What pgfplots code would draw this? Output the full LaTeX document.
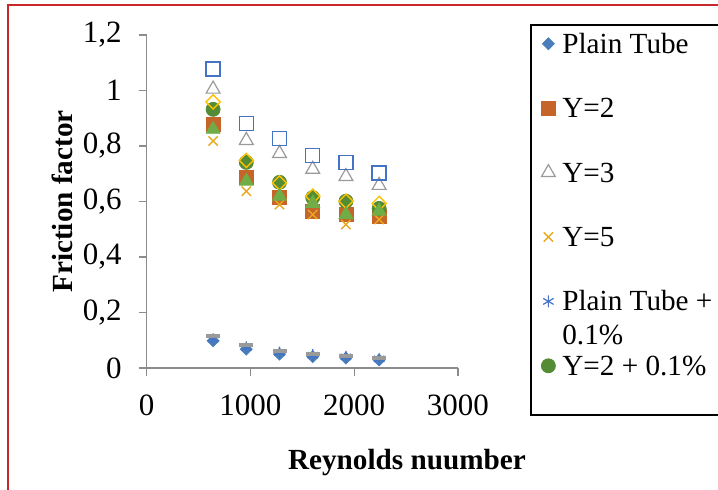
\documentclass[border=0pt]{standalone}
\usepackage{fontspec}
\setmainfont{Liberation Serif}
\usepackage{pgfplots}
\usepackage{pgfplotstable}
\pgfplotsset{compat=1.18}
\definecolor{cBlueD}{HTML}{4A7EBB}
\definecolor{cOrange}{HTML}{C5652A}
\definecolor{cGrey}{HTML}{9A9A9A}
\definecolor{cGold}{HTML}{E8A820}
\definecolor{cBlue}{HTML}{4472C4}
\definecolor{cGreenD}{HTML}{548B35}
\definecolor{cGreen}{HTML}{70AD47}
\definecolor{cYellow}{HTML}{FFC000}
\definecolor{cAxis}{HTML}{8C8C8C}
\definecolor{cRed}{HTML}{C8282A}
\pgfplotstableread{
x PT Y2 Y3 Y5 PTa Y2a G BS YD GT
640 0.098 0.878 1.005 0.818 0.104 0.932 0.116 1.077 0.959 0.860
960 0.068 0.687 0.820 0.637 0.074 0.741 0.083 0.882 0.748 0.673
1280 0.050 0.614 0.773 0.589 0.055 0.669 0.060 0.826 0.667 0.619
1600 0.041 0.564 0.716 0.553 0.046 0.614 0.050 0.766 0.619 0.593
1920 0.036 0.553 0.690 0.517 0.040 0.601 0.043 0.741 0.601 0.553
2240 0.029 0.547 0.658 0.535 0.033 0.575 0.036 0.703 0.593 0.565
}\data
\begin{document}
\begin{tikzpicture}[x=1pt,y=1pt]
\useasboundingbox (0,0) rectangle (359,245);
\draw[cRed, line width=0.8pt] (4,0) -- (4,242.5) -- (359.5,242.5);
\draw[black, line width=0.9pt] (359.5,232.5) -- (265.5,232.5) -- (265.5,37.5) -- (359.5,37.5);
\begin{axis}[
  at={(73.35pt,61pt)}, anchor=south west,
  scale only axis, width=155.65pt, height=166.5pt,
  xmin=0, xmax=3000, ymin=0, ymax=1.2,
  axis x line*=bottom, axis y line*=left,
  axis line style={cAxis, line width=0.6pt},
  xtick={0,1000,2000,3000}, ytick={0,0.2,0.4,0.6,0.8,1,1.2},
  tick align=outside, major tick length=4pt,
  tick style={cAxis, line width=0.6pt},
  /pgf/number format/use comma,
  /pgf/number format/1000 sep={},
  /pgf/number format/assume math mode=true,
  tick label style={font=\fontsize{15.5}{18}\selectfont, black},
  yticklabel style={xshift=-5pt},
  xticklabel style={yshift=-6pt},
  label style={font=\fontsize{14.6}{18}\selectfont\bfseries},
  xlabel={Reynolds nuumber}, ylabel={Friction factor},
  xlabel style={at={(axis description cs:0.836,-0.285)}, anchor=center},
  ylabel style={at={(axis description cs:-0.272,0.5)}, anchor=center},
  legend cell align=left,
  legend image code/.code={%
    \path[draw=none, fill=none] (-4pt,-4pt) rectangle (4pt,6pt);
    \draw[#1] plot coordinates {(0pt,1.3pt)};},
  legend style={draw=none, fill=none, at={(axis description cs:1.2634,1.006)},
    anchor=north west, inner sep=0pt, row sep=19.2pt,
    font=\fontsize{14.6}{17}\selectfont,
    nodes={inner sep=0pt, text height=10pt, text depth=3pt},
    /tikz/every odd column/.append style={column sep=3pt}},
]
\addplot[only marks, mark=square*, mark size=2.1pt, mark options={rotate=45, fill=cBlueD, draw=cBlueD}] table[x=x,y=PT]{\data};
\addlegendentry{Plain Tube}
\addplot[only marks, mark=square*, mark size=3.5pt, mark options={fill=cOrange, draw=cOrange}] table[x=x,y=Y2]{\data};
\addlegendentry{Y=2}
\addplot[only marks, mark=triangle, mark size=4pt, mark options={draw=cGrey, line width=0.6pt}] table[x=x,y=Y3]{\data};
\addlegendentry{Y=3}
\addplot[only marks, mark=x, mark size=3.3pt, mark options={draw=cGold, line width=0.7pt}] table[x=x,y=Y5]{\data};
\addlegendentry{Y=5}
\addplot[only marks, mark=asterisk, mark size=3pt, mark options={draw=cBlue, line width=0.6pt}] table[x=x,y=PTa]{\data};
\addlegendentry{\makebox[0pt][l]{\raisebox{-17pt}[0pt][0pt]{0.1\%}}Plain Tube +}
\addplot[only marks, mark=*, mark size=3.5pt, mark options={fill=cGreenD, draw=cGreenD}] table[x=x,y=Y2a]{\data};
\addlegendentry{Y=2 + 0.1\%}
\addplot[only marks, forget plot, mark=-, mark size=3.5pt, mark options={draw=cGrey, line width=2pt}] table[x=x,y=G]{\data};
\addplot[only marks, forget plot, mark=square, mark size=3.5pt, mark options={draw=cBlue, line width=0.7pt}] table[x=x,y=BS]{\data};
\addplot[only marks, forget plot, mark=square, mark size=2.5pt, mark options={rotate=45, draw=cYellow, line width=0.7pt}] table[x=x,y=YD]{\data};
\addplot[only marks, forget plot, mark=triangle*, mark size=4pt, mark options={fill=cGreen, draw=cGreen}] table[x=x,y=GT]{\data};
\end{axis}
\end{tikzpicture}
\end{document}
